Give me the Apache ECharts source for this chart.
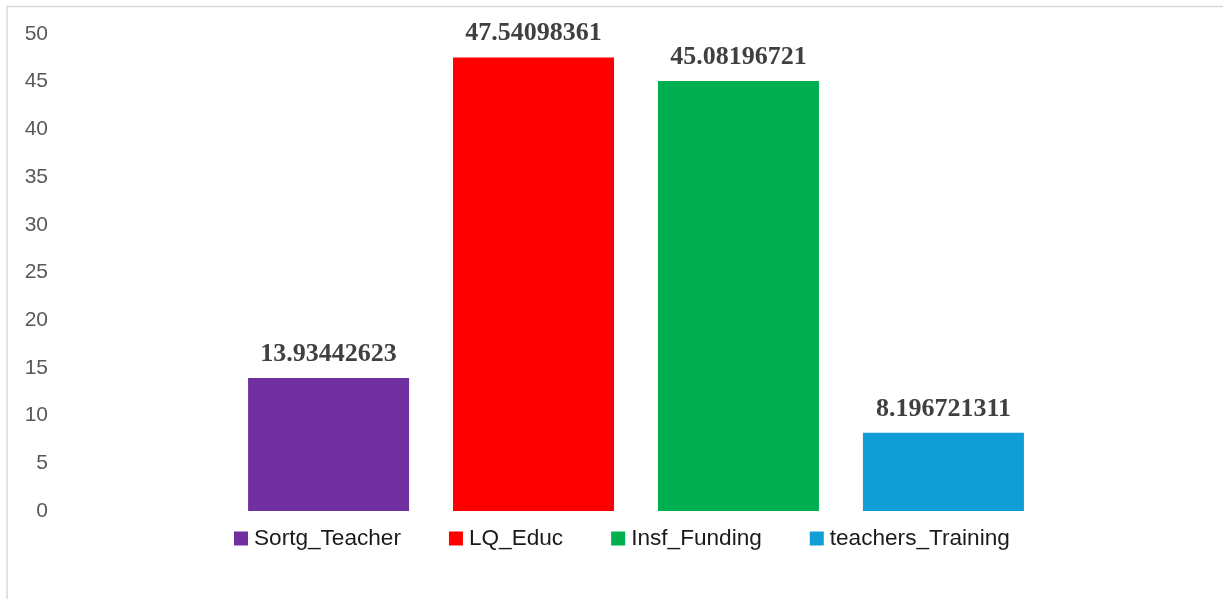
<!DOCTYPE html>
<html>
<head>
<meta charset="utf-8">
<script src="https://cdn.jsdelivr.net/npm/echarts@6/dist/echarts.min.js"></script>
<style>
html,body{margin:0;padding:0;background:#fff;}
#c{width:1223px;height:599px;}
</style>
</head>
<body>
<div id="c"></div>
<script>
const categories = [''];
const seriesNames = ['Sortg_Teacher', 'LQ_Educ', 'Insf_Funding', 'teachers_Training'];
const seriesValues = [13.93442623, 47.54098361, 45.08196721, 8.196721311];
const seriesColors = ['#7030A0', '#FF0000', '#00B050', '#119ED6'];
const yTicks = [0, 5, 10, 15, 20, 25, 30, 35, 40, 45, 50];

const chart = echarts.init(document.getElementById('c'));
chart.setOption({
  animation: false,
  backgroundColor: '#fff',
  graphic: [{
    type: 'rect', shape: { x: 7, y: 6.5, width: 1300, height: 700 },
    style: { fill: 'none', stroke: '#d9d9d9', lineWidth: 1.5 }, z: -1
  }],
  grid: { left: 61, right: 12, top: 34, bottom: 88 },
  legend: {
    left: 229, top: 522,
    icon: 'rect', itemWidth: 14, itemHeight: 14, itemGap: 48,
    textStyle: { fontFamily: 'Liberation Sans', fontSize: 22.6, color: '#1a1a1a', padding: [0, 0, 0, 1] },
    data: seriesNames
  },
  xAxis: {
    type: 'category', data: categories,
    axisLine: { show: false }, axisTick: { show: false }, axisLabel: { show: false }
  },
  yAxis: {
    type: 'value', min: yTicks[0], max: yTicks[yTicks.length - 1], interval: 5,
    axisLine: { show: false }, axisTick: { show: false }, splitLine: { show: false },
    axisLabel: { fontFamily: 'Liberation Sans', fontSize: 21, color: '#595959', margin: 13 }
  },
  series: seriesNames.map((n, i) => ({
    name: n, type: 'bar', data: [seriesValues[i]],
    barWidth: 161, barGap: '27.3%',
    itemStyle: { color: seriesColors[i] },
    label: {
      show: true, position: 'top', distance: 11,
      fontFamily: 'Liberation Serif', fontWeight: 'bold', fontSize: 26, color: '#404040',
      formatter: p => String(seriesValues[p.seriesIndex])
    }
  }))
});
</script>
</body>
</html>
